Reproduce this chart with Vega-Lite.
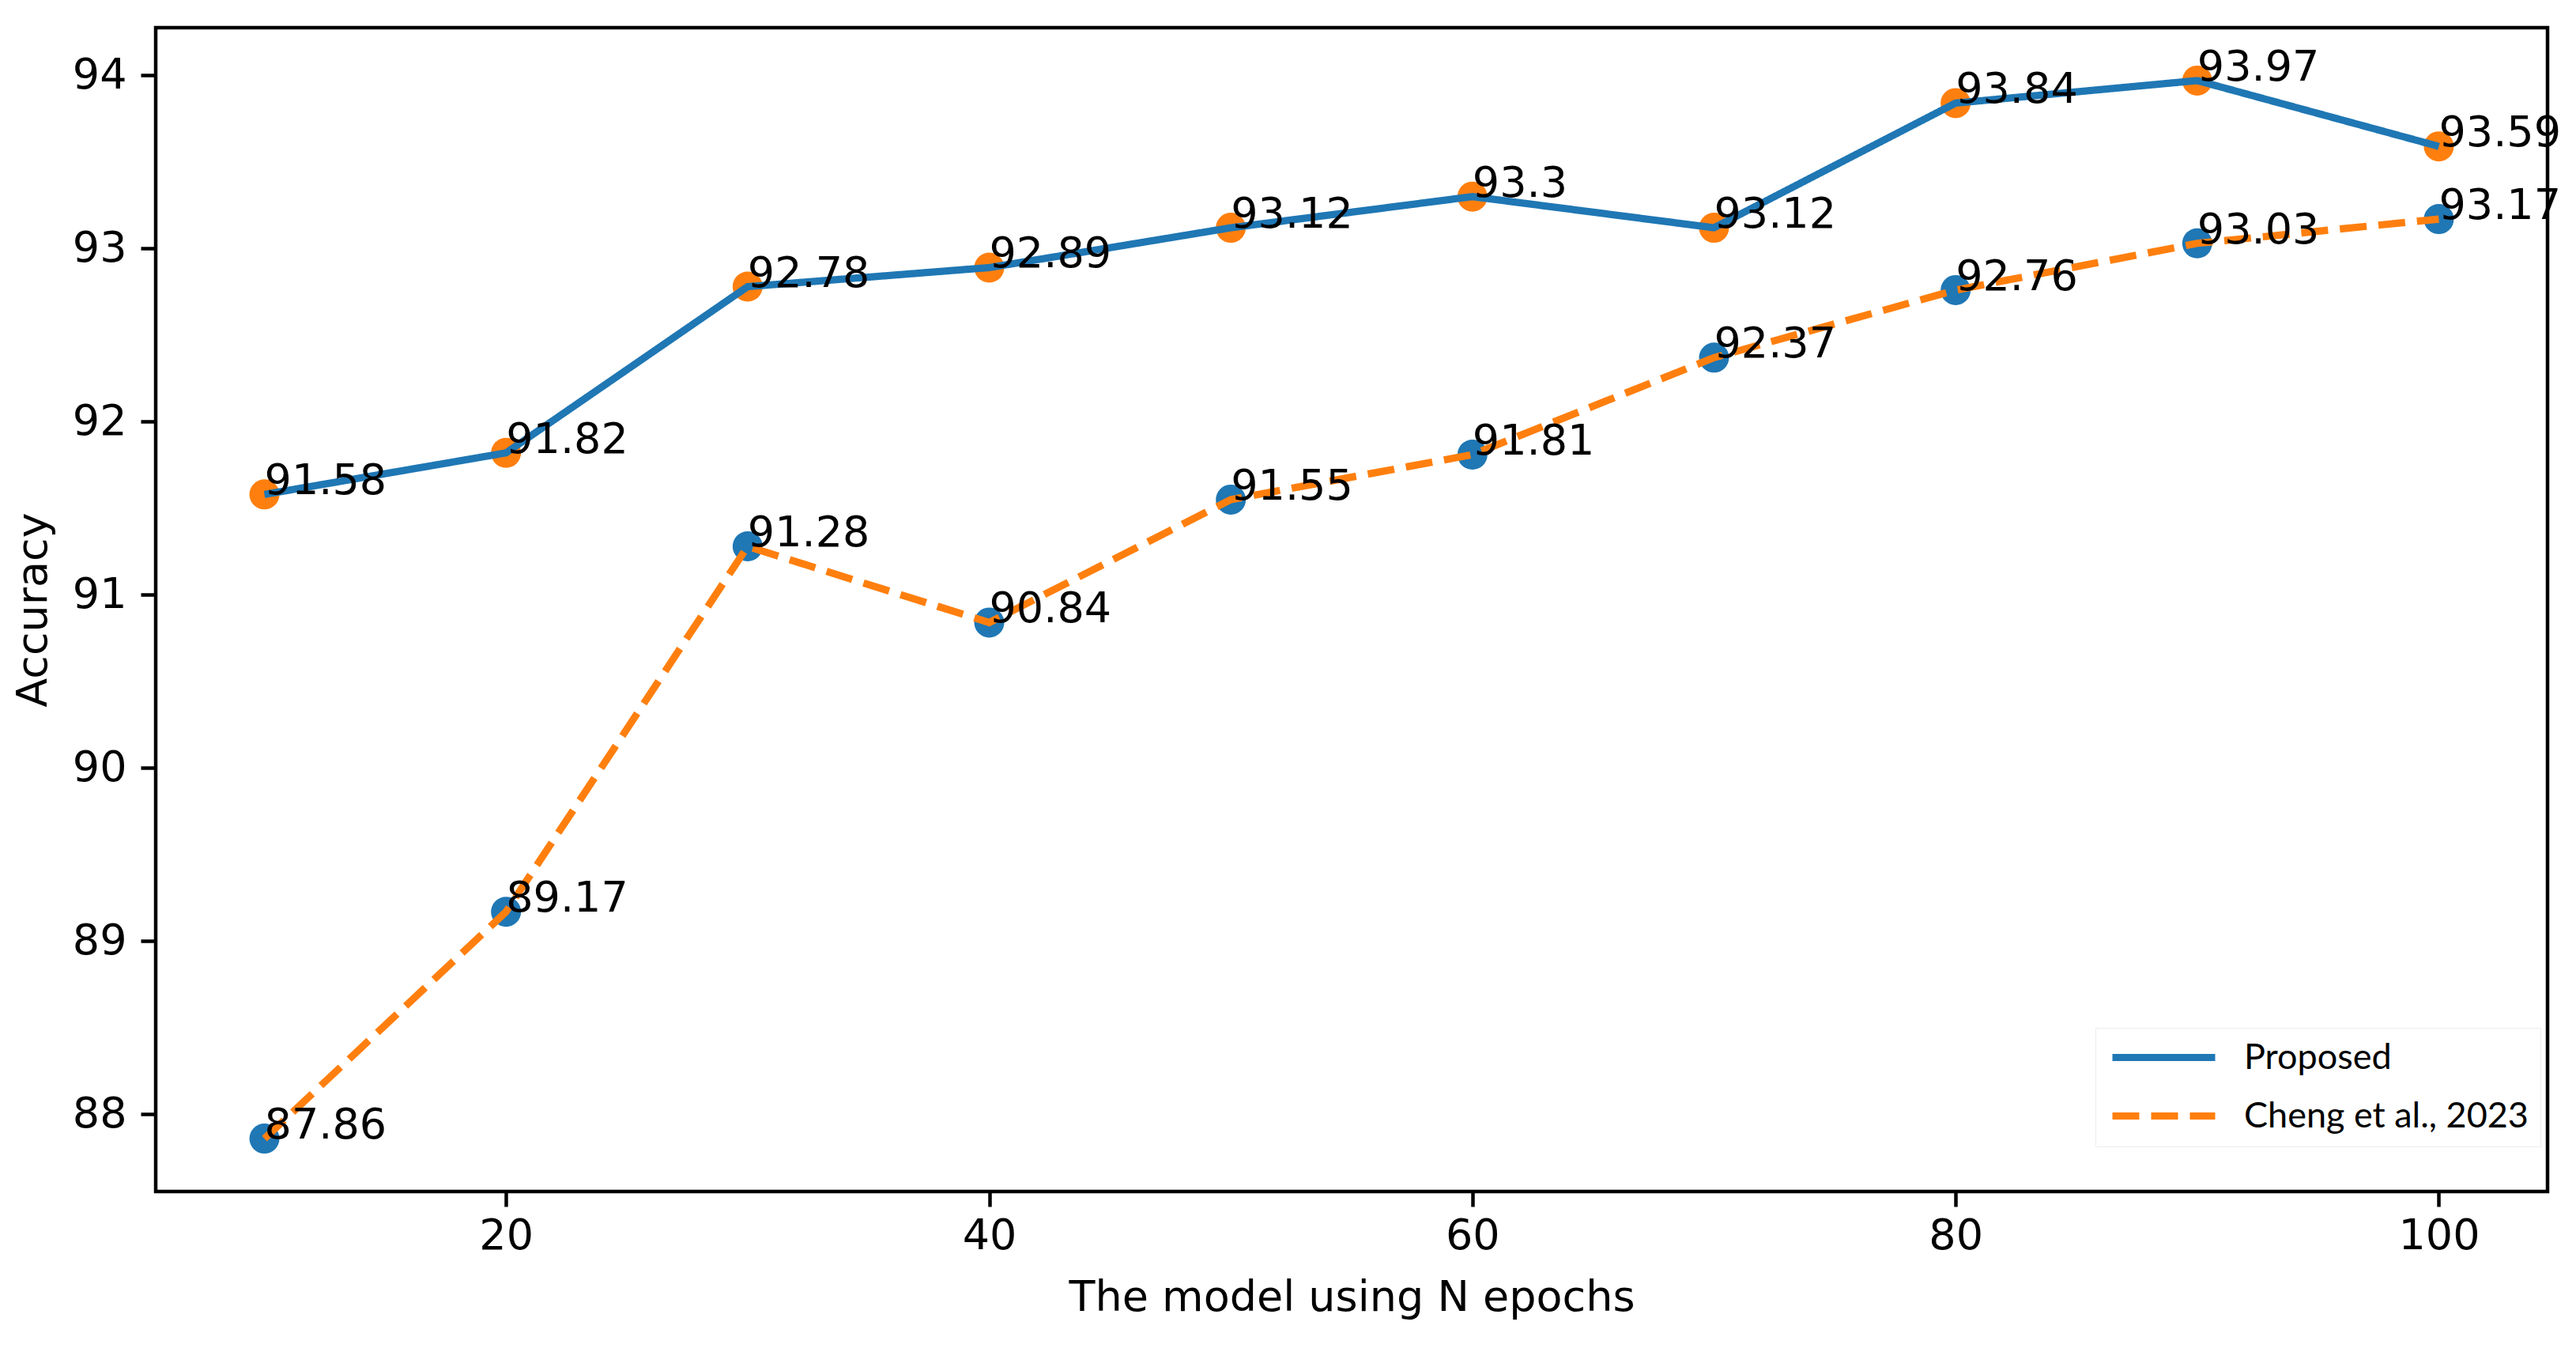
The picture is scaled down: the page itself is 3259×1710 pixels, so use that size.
{
  "$schema": "https://vega.github.io/schema/vega-lite/v6.json",
  "width": 3026,
  "height": 1472,
  "autosize": "none",
  "padding": {"left": 197, "top": 35, "right": 36, "bottom": 203},
  "background": "white",
  "config": {
    "view": {"stroke": "black", "strokeWidth": 4.5},
    "axis": {
      "domain": false,
      "grid": false,
      "tickColor": "black",
      "tickWidth": 4.5,
      "tickSize": 19,
      "labelFont": "DejaVu Sans",
      "labelFontSize": 54,
      "labelColor": "black",
      "titleFont": "DejaVu Sans",
      "titleFontSize": 54,
      "titleFontWeight": "normal",
      "titleColor": "black"
    },
    "legend": {
      "title": null,
      "orient": "none",
      "legendX": 2454,
      "legendY": 1265,
      "padding": 15,
      "strokeColor": "#ececec",
      "fillColor": "white",
      "symbolType": "M-1,0H7.125",
      "symbolSize": 1024,
      "symbolStrokeWidth": 9,
      "labelFont": "Lato",
      "labelFontSize": 45,
      "labelColor": "black",
      "labelLimit": 1000,
      "labelOffset": 128,
      "rowPadding": 28
    }
  },
  "data": {
    "values": [
      {"series": "Proposed", "epochs": 10, "acc": 91.58},
      {"series": "Proposed", "epochs": 20, "acc": 91.82},
      {"series": "Proposed", "epochs": 30, "acc": 92.78},
      {"series": "Proposed", "epochs": 40, "acc": 92.89},
      {"series": "Proposed", "epochs": 50, "acc": 93.12},
      {"series": "Proposed", "epochs": 60, "acc": 93.3},
      {"series": "Proposed", "epochs": 70, "acc": 93.12},
      {"series": "Proposed", "epochs": 80, "acc": 93.84},
      {"series": "Proposed", "epochs": 90, "acc": 93.97},
      {"series": "Proposed", "epochs": 100, "acc": 93.59},
      {"series": "Cheng et al., 2023", "epochs": 10, "acc": 87.86},
      {"series": "Cheng et al., 2023", "epochs": 20, "acc": 89.17},
      {"series": "Cheng et al., 2023", "epochs": 30, "acc": 91.28},
      {"series": "Cheng et al., 2023", "epochs": 40, "acc": 90.84},
      {"series": "Cheng et al., 2023", "epochs": 50, "acc": 91.55},
      {"series": "Cheng et al., 2023", "epochs": 60, "acc": 91.81},
      {"series": "Cheng et al., 2023", "epochs": 70, "acc": 92.37},
      {"series": "Cheng et al., 2023", "epochs": 80, "acc": 92.76},
      {"series": "Cheng et al., 2023", "epochs": 90, "acc": 93.03},
      {"series": "Cheng et al., 2023", "epochs": 100, "acc": 93.17}
    ]
  },
  "encoding": {
    "x": {
      "field": "epochs",
      "type": "quantitative",
      "scale": {"domain": [5.5, 104.5], "nice": false, "zero": false},
      "axis": {"values": [20, 40, 60, 80, 100], "title": "The model using N epochs", "labelPadding": 10, "titlePadding": 24}
    },
    "y": {
      "field": "acc",
      "type": "quantitative",
      "scale": {"domain": [87.5545, 94.2755], "nice": false, "zero": false},
      "axis": {"values": [88, 89, 90, 91, 92, 93, 94], "title": "Accuracy", "labelPadding": 18, "titlePadding": 22}
    }
  },
  "layer": [
    {
      "transform": [{"filter": "datum.series == 'Proposed'"}],
      "mark": {"type": "circle", "size": 1444, "opacity": 1, "color": "#ff7f0e"}
    },
    {
      "transform": [{"filter": "datum.series != 'Proposed'"}],
      "mark": {"type": "circle", "size": 1444, "opacity": 1, "color": "#1f77b4"}
    },
    {
      "mark": {"type": "line", "strokeWidth": 9.2},
      "encoding": {
        "color": {
          "field": "series",
          "type": "nominal",
          "scale": {"domain": ["Proposed", "Cheng et al., 2023"], "range": ["#1f77b4", "#ff7f0e"]}
        },
        "strokeDash": {
          "field": "series",
          "type": "nominal",
          "scale": {"domain": ["Proposed", "Cheng et al., 2023"], "range": [[1, 0], [34, 15]]}
        }
      }
    },
    {
      "mark": {"type": "text", "align": "left", "baseline": "alphabetic", "font": "DejaVu Sans", "fontSize": 54, "color": "black"},
      "encoding": {
        "text": {"field": "acc", "type": "nominal"}
      }
    }
  ]
}
